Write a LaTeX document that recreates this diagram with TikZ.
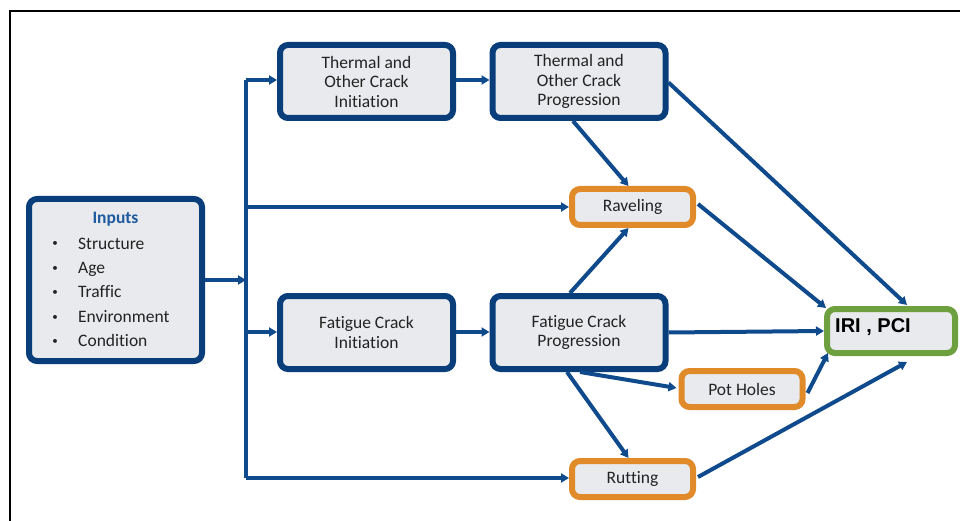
\documentclass[tikz,border=0pt]{standalone}
\usepackage{fontspec}
\setmainfont{Carlito}[Ligatures={NoCommon,NoContextual}]
\newfontfamily\arialfont{Liberation Sans}
\usetikzlibrary{arrows.meta,shadows}
\definecolor{navy}{RGB}{14,74,140}
\definecolor{navyb}{RGB}{10,62,122}
\definecolor{boxfill}{RGB}{232,234,237}
\definecolor{orangeb}{RGB}{224,138,42}
\definecolor{greenb}{RGB}{110,160,64}
\definecolor{inpblue}{RGB}{30,90,160}
\definecolor{txt}{RGB}{35,35,35}
\tikzset{
  basebox/.style={rounded corners=8pt, fill=boxfill, line width=6pt, align=center,
    text=txt, font=\fontsize{17.5}{19.5}\selectfont, inner sep=0pt,
    drop shadow={opacity=0.25, shadow xshift=2pt, shadow yshift=-2pt}},
  bluebox/.style={basebox, draw=navyb, minimum width=173pt, minimum height=73pt},
  orangebox/.style={basebox, draw=orangeb, minimum width=121pt, minimum height=36pt},
  greenbox/.style={basebox, draw=greenb, minimum width=128pt, minimum height=44pt},
  conn/.style={draw=navy, line width=4pt},
  arr/.style={conn, -{Triangle[length=8pt,width=9pt]}}
}
\begin{document}
\begin{tikzpicture}[x=1pt,y=-1pt]
\useasboundingbox (0,0) rectangle (960,521);
\fill[white] (0,0) rectangle (960,521);
\draw[line width=2pt, black] (10,521) -- (10,11) -- (960,11);

% nodes
\node[bluebox, minimum height=162pt] (inp) at (115.5,280) {};
\node[font=\fontsize{17.5}{19}\selectfont\bfseries, text=inpblue] (inph) at (115.5,219) {Inputs};
\foreach \t/\yy [count=\i] in {Structure/244,Age/268,Traffic/292,Environment/317,Condition/341}{
  \node[anchor=base west, font=\fontsize{17.5}{19}\selectfont, text=txt, inner sep=0pt] (it\i) at (78,\yy+5.5) {\t};
  \node[anchor=base, font=\fontsize{11}{12}\selectfont, text=txt, inner sep=0pt] (bu\i) at (55,\yy+3) {\textbullet};
}
\node[bluebox] (ti) at (366.5,81.5) {Thermal and\\Other Crack\\Initiation};
\node[bluebox] (tp) at (579,81.5) {Thermal and\\Other Crack\\Progression};
\node[bluebox] (fi) at (366.5,332.5) {Fatigue Crack\\Initiation};
\node[bluebox] (fp) at (579,332.5) {Fatigue Crack\\Progression};
\node[orangebox] (rav) at (632.5,207) {Raveling};
\node[orangebox] (pot) at (742,389) {Pot Holes};
\node[orangebox] (rut) at (632.5,479) {Rutting};
\node[greenbox] (iri) at (891,331) {};
\node[anchor=west, font=\arialfont\bfseries\fontsize{20}{24}\selectfont, text=black, inner sep=0pt] (irit) at (835,327) {IRI , PCI};

% trunk
\coordinate (tt) at (246,80);
\coordinate (tm) at (246,280);
\coordinate (tr) at (246,207);
\coordinate (tf) at (246,332);
\coordinate (tb) at (246,478);
\draw[conn] (tt) -- (tb);
\draw[arr] (inp.east |- tm) -- (tm);
\draw[arr] (tt) -- (ti.west |- tt);
\draw[arr] (tr) -- (rav.west |- tr);
\draw[arr] (tf) -- (fi.west |- tf);
\draw[arr] (tb) -- (rut.west |- tb);

% other connectors
\draw[arr] (ti.east |- tt) -- (tp.west |- tt);
\draw[arr] (fi.east |- tf) -- (fp.west |- tf);
\coordinate (iritop) at (907,305);
\coordinate (iribot) at (907,362);
\draw[arr] ([yshift=-1pt]tp.east) -- (iritop);
\draw[arr] ([xshift=-6pt]tp.south) -- ([xshift=-4pt]rav.north);
\draw[arr] ([xshift=-9pt]fp.north) -- ([xshift=-4pt]rav.south);
\draw[arr] ([xshift=2pt,yshift=3pt]rav.east) -- ([xshift=2pt,yshift=-2pt]iri.north west);
\draw[arr] (fp.east) -- (iri.west);
\draw[arr] ([xshift=1pt]fp.south) -- ([xshift=-2pt,yshift=1pt]pot.west);
\draw[arr] ([xshift=-12pt]fp.south) -- ([xshift=-4pt]rut.north);
\draw[arr] ([xshift=2pt,yshift=-4pt]pot.east) -- ([xshift=4pt,yshift=3pt]iri.south west);
\draw[arr] ([xshift=2pt,yshift=2pt]rut.east) -- (iribot);
\end{tikzpicture}
\end{document}
